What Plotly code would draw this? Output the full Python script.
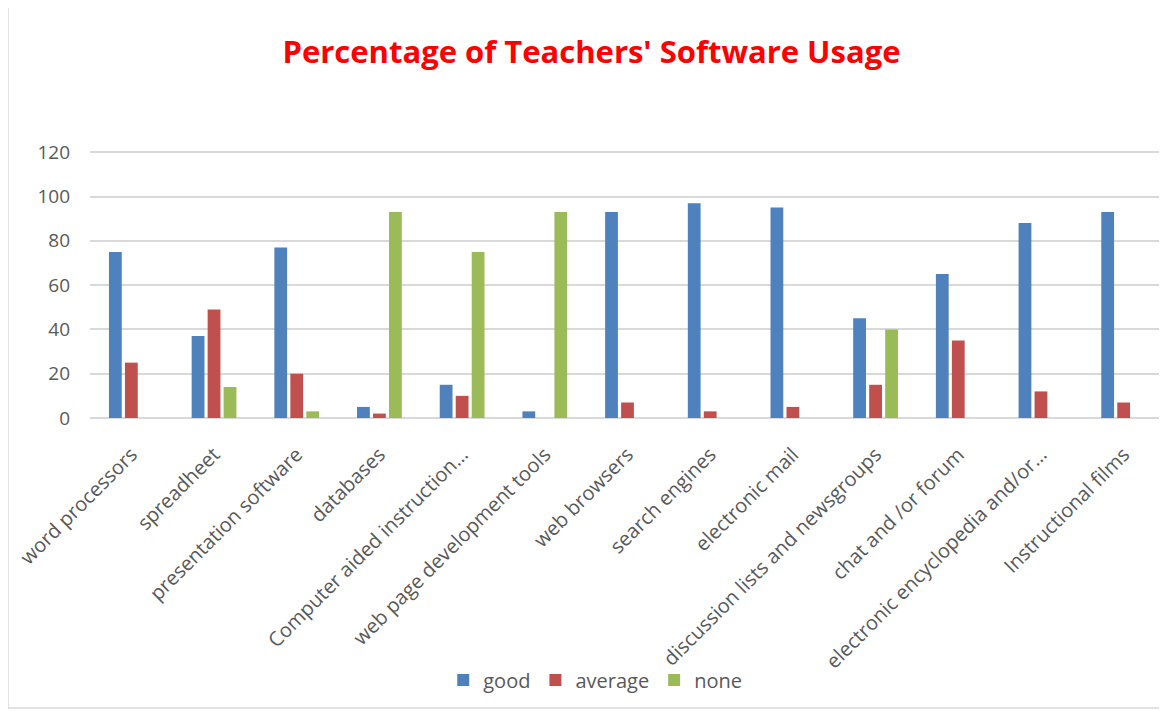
import plotly.graph_objects as go

# Datos
categorias = ["word processors", "spreadheet", "presentation software", "databases",
              "Computer aided instruction…", "web page development tools", "web browsers",
              "search engines", "electronic mail", "discussion lists and newsgroups",
              "chat and /or forum", "electronic encyclopedia and/or…", "Instructional films"]
good = [75, 37, 77, 5, 15, 3, 93, 97, 95, 45, 65, 88, 93]
average = [25, 49, 20, 2, 10, 0, 7, 3, 5, 15, 35, 12, 7]
none = [0, 14, 3, 93, 75, 93, 0, 0, 0, 40, 0, 0, 0]
y_ticks = [0, 20, 40, 60, 80, 100, 120]

fuente = "Open Sans, sans-serif"
gris = "#595959"

fig = go.Figure()
series = [("good", good, "#4F81BD"), ("average", average, "#C0504D"), ("none", none, "#9BBB59")]
for nombre, valores, color in series:
    fig.add_trace(go.Bar(x=categorias, y=valores, name=nombre, marker_color=color,
                         marker_line_width=0))

fig.update_layout(
    width=1167, height=711,
    title=dict(text="<b>Percentage of Teachers' Software Usage</b>", x=0.5, xanchor="center",
               y=0.938, yanchor="middle", font=dict(family=fuente, size=31, color="#FF0000")),
    font=dict(family=fuente, size=19, color=gris),
    plot_bgcolor="white", paper_bgcolor="white",
    barmode="group", bargap=0.42, bargroupgap=0.2,
    margin=dict(l=82, r=10, t=142, b=301, autoexpand=False),
    xaxis=dict(tickangle=-45, showgrid=False, showline=False, ticks="", automargin=False,
               ticklabelstandoff=20, tickfont=dict(size=20, color=gris)),
    yaxis=dict(range=[0, 121], tickvals=y_ticks, showgrid=True, gridcolor="#D9D9D9",
               gridwidth=1.5, zeroline=True, zerolinecolor="#D9D9D9", zerolinewidth=1.5,
               ticks="", automargin=False, ticklabelstandoff=19,
               tickfont=dict(size=19, color=gris)),
    legend=dict(orientation="h", x=0.47, xanchor="center", y=-0.978, yanchor="middle",
                font=dict(size=20, color=gris), itemwidth=30, bgcolor="rgba(0,0,0,0)"),
    shapes=[dict(type="rect", xref="paper", yref="paper", x0=-0.0763, x1=1.2, y0=-1.082, y1=1.6,
                 line=dict(color="#D9D9D9", width=1.5), fillcolor="rgba(0,0,0,0)")],
)

fig.write_html("out.html")
